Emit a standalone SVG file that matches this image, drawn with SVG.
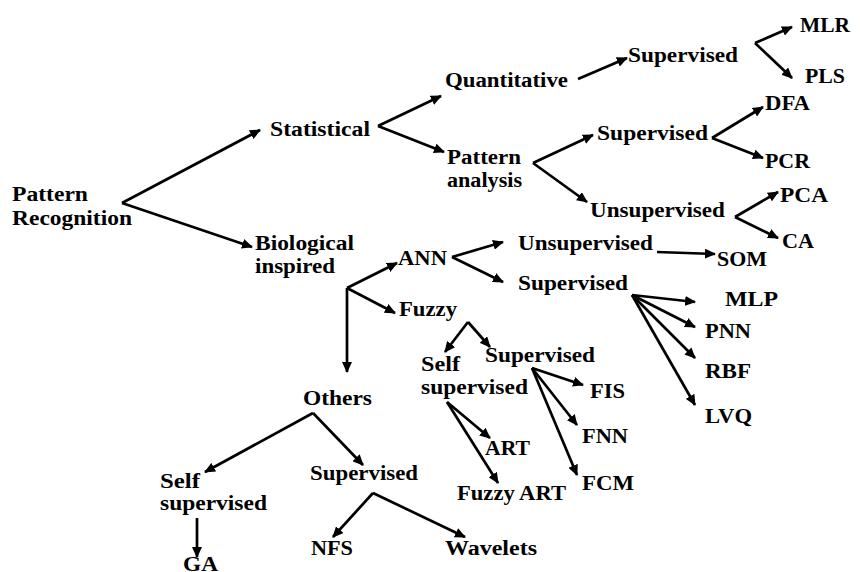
<svg xmlns="http://www.w3.org/2000/svg" width="860" height="572" viewBox="0 0 860 572">
<style>
.t{font-family:"Liberation Serif","Times New Roman",serif;font-weight:bold;font-size:20px;fill:#000}
.c line{stroke:#000;stroke-width:2.7;fill:none;marker-end:url(#ah)}
</style>
<defs>
<marker id="ah" markerUnits="userSpaceOnUse" markerWidth="11" markerHeight="10" refX="10" refY="5" orient="auto">
<path d="M0,0 L11,5 L0,10 z" fill="#000"/>
</marker>
</defs>
<rect width="860" height="572" fill="#fff"/>
<g class="c" id="connectors">
<line x1="122" y1="203" x2="260" y2="130"/>
<line x1="122" y1="203" x2="252" y2="247"/>
<line x1="378" y1="126" x2="441" y2="96"/>
<line x1="378" y1="126" x2="444" y2="152"/>
<line x1="578" y1="79" x2="627" y2="58"/>
<line x1="755" y1="43" x2="792" y2="27"/>
<line x1="755" y1="43" x2="792" y2="78"/>
<line x1="533" y1="163" x2="593" y2="135"/>
<line x1="533" y1="163" x2="587" y2="202"/>
<line x1="712" y1="138" x2="763" y2="107"/>
<line x1="712" y1="138" x2="763" y2="158"/>
<line x1="735" y1="217" x2="778" y2="192"/>
<line x1="735" y1="217" x2="778" y2="238"/>
<line x1="347" y1="288" x2="397" y2="263"/>
<line x1="347" y1="288" x2="395" y2="313"/>
<line x1="347" y1="288" x2="347" y2="372"/>
<line x1="452" y1="257" x2="503" y2="242"/>
<line x1="452" y1="257" x2="503" y2="282"/>
<line x1="657" y1="252" x2="715" y2="254"/>
<line x1="632" y1="295" x2="695" y2="302"/>
<line x1="632" y1="295" x2="695" y2="327"/>
<line x1="632" y1="295" x2="695" y2="358"/>
<line x1="632" y1="295" x2="695" y2="405"/>
<line x1="468" y1="322" x2="445" y2="352"/>
<line x1="468" y1="322" x2="490" y2="347"/>
<line x1="447" y1="402" x2="490" y2="438"/>
<line x1="447" y1="402" x2="498" y2="483"/>
<line x1="532" y1="368" x2="583" y2="385"/>
<line x1="532" y1="368" x2="577" y2="425"/>
<line x1="532" y1="368" x2="577" y2="475"/>
<line x1="313" y1="413" x2="205" y2="472"/>
<line x1="313" y1="413" x2="363" y2="465"/>
<line x1="197" y1="518" x2="197" y2="557"/>
<line x1="373" y1="493" x2="333" y2="537"/>
<line x1="373" y1="493" x2="465" y2="537"/>
</g>
<g id="pattern-recognition"><text class="t" x="12" y="201" textLength="76" lengthAdjust="spacingAndGlyphs">Pattern</text><text class="t" x="12" y="225" textLength="120" lengthAdjust="spacingAndGlyphs">Recognition</text></g>
<g id="statistical"><text class="t" x="270" y="136" textLength="100" lengthAdjust="spacingAndGlyphs">Statistical</text></g>
<g id="biological"><text class="t" x="255" y="250" textLength="99" lengthAdjust="spacingAndGlyphs">Biological</text><text class="t" x="255" y="273" textLength="80" lengthAdjust="spacingAndGlyphs">inspired</text></g>
<g id="quantitative"><text class="t" x="445" y="87" textLength="123" lengthAdjust="spacingAndGlyphs">Quantitative</text></g>
<g id="supervised-q"><text class="t" x="628" y="62" textLength="110" lengthAdjust="spacingAndGlyphs">Supervised</text></g>
<g id="mlr"><text class="t" x="800" y="32" textLength="50" lengthAdjust="spacingAndGlyphs">MLR</text></g>
<g id="pls"><text class="t" x="805" y="83" textLength="40" lengthAdjust="spacingAndGlyphs">PLS</text></g>
<g id="pattern-analysis"><text class="t" x="447" y="164" textLength="74" lengthAdjust="spacingAndGlyphs">Pattern</text><text class="t" x="447" y="187" textLength="75" lengthAdjust="spacingAndGlyphs">analysis</text></g>
<g id="supervised-pa"><text class="t" x="597" y="140" textLength="111" lengthAdjust="spacingAndGlyphs">Supervised</text></g>
<g id="dfa"><text class="t" x="765" y="110" textLength="45" lengthAdjust="spacingAndGlyphs">DFA</text></g>
<g id="pcr"><text class="t" x="765" y="168" textLength="45" lengthAdjust="spacingAndGlyphs">PCR</text></g>
<g id="unsupervised-pa"><text class="t" x="590" y="217" textLength="135" lengthAdjust="spacingAndGlyphs">Unsupervised</text></g>
<g id="pca"><text class="t" x="780" y="202" textLength="48" lengthAdjust="spacingAndGlyphs">PCA</text></g>
<g id="ca"><text class="t" x="782" y="248" textLength="32" lengthAdjust="spacingAndGlyphs">CA</text></g>
<g id="ann"><text class="t" x="398" y="265" textLength="49" lengthAdjust="spacingAndGlyphs">ANN</text></g>
<g id="unsupervised-ann"><text class="t" x="518" y="250" textLength="135" lengthAdjust="spacingAndGlyphs">Unsupervised</text></g>
<g id="som"><text class="t" x="717" y="266" textLength="50" lengthAdjust="spacingAndGlyphs">SOM</text></g>
<g id="supervised-ann"><text class="t" x="518" y="290" textLength="110" lengthAdjust="spacingAndGlyphs">Supervised</text></g>
<g id="mlp"><text class="t" x="725" y="306" textLength="53" lengthAdjust="spacingAndGlyphs">MLP</text></g>
<g id="pnn"><text class="t" x="705" y="338" textLength="46" lengthAdjust="spacingAndGlyphs">PNN</text></g>
<g id="rbf"><text class="t" x="705" y="378" textLength="46" lengthAdjust="spacingAndGlyphs">RBF</text></g>
<g id="lvq"><text class="t" x="705" y="423" textLength="47" lengthAdjust="spacingAndGlyphs">LVQ</text></g>
<g id="fuzzy"><text class="t" x="399" y="316" textLength="58" lengthAdjust="spacingAndGlyphs">Fuzzy</text></g>
<g id="self-supervised-f"><text class="t" x="421" y="371" textLength="39" lengthAdjust="spacingAndGlyphs">Self</text><text class="t" x="421" y="394" textLength="107" lengthAdjust="spacingAndGlyphs">supervised</text></g>
<g id="supervised-f"><text class="t" x="485" y="362" textLength="110" lengthAdjust="spacingAndGlyphs">Supervised</text></g>
<g id="fis"><text class="t" x="590" y="398" textLength="35" lengthAdjust="spacingAndGlyphs">FIS</text></g>
<g id="fnn"><text class="t" x="582" y="443" textLength="46" lengthAdjust="spacingAndGlyphs">FNN</text></g>
<g id="fcm"><text class="t" x="582" y="490" textLength="52" lengthAdjust="spacingAndGlyphs">FCM</text></g>
<g id="art"><text class="t" x="485" y="455" textLength="45" lengthAdjust="spacingAndGlyphs">ART</text></g>
<g id="fuzzy-art"><text class="t" x="457" y="500" textLength="109" lengthAdjust="spacingAndGlyphs">Fuzzy ART</text></g>
<g id="others"><text class="t" x="303" y="405" textLength="69" lengthAdjust="spacingAndGlyphs">Others</text></g>
<g id="self-supervised-o"><text class="t" x="160" y="488" textLength="40" lengthAdjust="spacingAndGlyphs">Self</text><text class="t" x="160" y="510" textLength="107" lengthAdjust="spacingAndGlyphs">supervised</text></g>
<g id="supervised-o"><text class="t" x="310" y="480" textLength="108" lengthAdjust="spacingAndGlyphs">Supervised</text></g>
<g id="ga"><text class="t" x="183" y="571" textLength="35" lengthAdjust="spacingAndGlyphs">GA</text></g>
<g id="nfs"><text class="t" x="311" y="555" textLength="42" lengthAdjust="spacingAndGlyphs">NFS</text></g>
<g id="wavelets"><text class="t" x="445" y="555" textLength="92" lengthAdjust="spacingAndGlyphs">Wavelets</text></g>
</svg>
